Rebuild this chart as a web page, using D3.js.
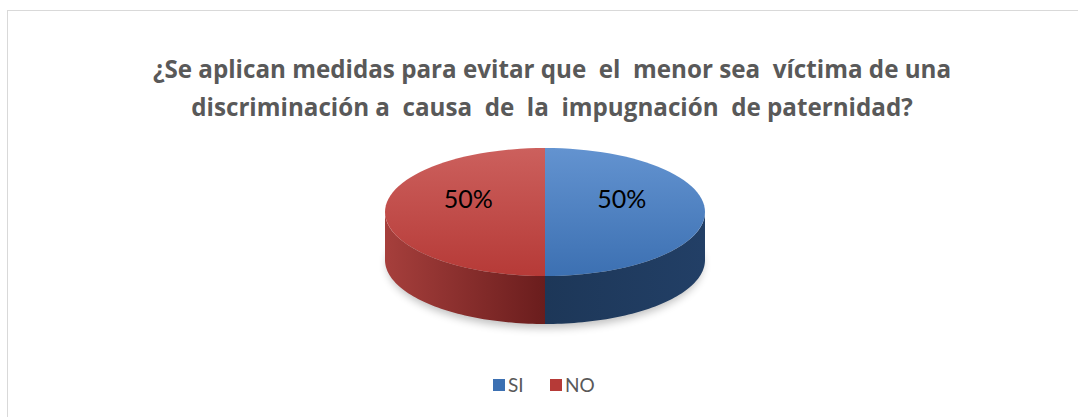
<!DOCTYPE html>
<html>
<head>
<meta charset="utf-8">
<script src="https://d3js.org/d3.v7.min.js"></script>
<style>
    body { margin: 0; background: #fff; }
    text { font-family: Lato, "Open Sans", sans-serif; }
    .title { font-family: "Open Sans", sans-serif; }
</style>
</head>
<body>
<script>
// data
const categories = ["SI", "NO"];
const values = [50, 50];
const titleLines = ["¿Se aplican medidas para evitar que  el  menor sea  víctima de una",
                    "discriminación a  causa  de  la  impugnación  de paternidad?"];

const W = 1078, H = 417;
const cx = 545, cy = 212, rx = 160, ry = 64, depth = 48;

const topColors = {SI: ["#6393d0", "#3c70b2"], NO: ["#cc605d", "#b63a37"]};
const sideColors = {SI: ["#1d3758", "#223f66"], NO: ["#a63f3c", "#6a1d1d"]};

const svg = d3.select("body").append("svg")
    .attr("width", W).attr("height", H);

const defs = svg.append("defs");
categories.forEach(c => {
    let g = defs.append("linearGradient").attr("id", "top" + c)
        .attr("x1", 0).attr("y1", 0).attr("x2", 0).attr("y2", 1);
    g.append("stop").attr("offset", "0%").attr("stop-color", topColors[c][0]);
    g.append("stop").attr("offset", "100%").attr("stop-color", topColors[c][1]);
    let s = defs.append("linearGradient").attr("id", "side" + c)
        .attr("x1", 0).attr("y1", 0).attr("x2", 1).attr("y2", 0);
    s.append("stop").attr("offset", "0%").attr("stop-color", sideColors[c][0]);
    s.append("stop").attr("offset", "100%").attr("stop-color", sideColors[c][1]);
});
defs.append("filter").attr("id", "blur")
    .attr("x", "-20%").attr("y", "-20%").attr("width", "140%").attr("height", "140%")
    .append("feGaussianBlur").attr("stdDeviation", 4);

// chart border
svg.append("rect")
    .attr("x", 7.5).attr("y", 10.5)
    .attr("width", W).attr("height", H)
    .attr("fill", "none").attr("stroke", "#d9d9d9").attr("stroke-width", 1);

// title
svg.append("g").selectAll("text")
    .data(titleLines)
    .join("text")
    .attr("class", "title")
    .attr("x", 552).attr("y", (d, i) => 78 + i * 38)
    .attr("text-anchor", "middle")
    .attr("font-size", 24.2).attr("font-weight", "bold")
    .attr("fill", "#595959")
    .attr("xml:space", "preserve")
    .style("white-space", "pre")
    .text(d => d);

const pie = d3.pie().sort(null).value(d => d.value);
const arcs = pie(categories.map((c, i) => ({cat: c, value: values[i]})));

const pt = (a, dy = 0) => [cx + rx * Math.sin(a), cy - ry * Math.cos(a) + dy];

function topPath(d) {
    let p = d3.path();
    p.moveTo(cx, cy);
    let s = pt(d.startAngle);
    p.lineTo(s[0], s[1]);
    let n = 60;
    for (let k = 1; k <= n; k++) {
        let a = d.startAngle + (d.endAngle - d.startAngle) * k / n;
        let q = pt(a);
        p.lineTo(q[0], q[1]);
    }
    p.closePath();
    return p.toString();
}

function sidePath(d) {
    let a0 = Math.max(d.startAngle, Math.PI / 2);
    let a1 = Math.min(d.endAngle, 3 * Math.PI / 2);
    if (a1 <= a0) return null;
    let p = d3.path(), n = 60;
    let s = pt(a0);
    p.moveTo(s[0], s[1]);
    for (let k = 1; k <= n; k++) {
        let q = pt(a0 + (a1 - a0) * k / n);
        p.lineTo(q[0], q[1]);
    }
    for (let k = n; k >= 0; k--) {
        let q = pt(a0 + (a1 - a0) * k / n, depth);
        p.lineTo(q[0], q[1]);
    }
    p.closePath();
    return p.toString();
}

// shadow
svg.append("ellipse")
    .attr("cx", cx).attr("cy", cy + depth + 4)
    .attr("rx", rx - 2).attr("ry", ry)
    .attr("fill", "#000").attr("opacity", 0.25)
    .attr("filter", "url(#blur)");

svg.append("g").selectAll("path")
    .data(arcs)
    .join("path")
    .attr("d", sidePath)
    .attr("fill", d => `url(#side${d.data.cat})`);

svg.append("g").selectAll("path")
    .data(arcs)
    .join("path")
    .attr("d", topPath)
    .attr("fill", d => `url(#top${d.data.cat})`);

// labels
const total = d3.sum(values);
svg.append("g").selectAll("text")
    .data(arcs)
    .join("text")
    .attr("x", d => pt((d.startAngle + d.endAngle) / 2)[0] * 0.48 + cx * 0.52)
    .attr("y", 208)
    .attr("text-anchor", "middle")
    .attr("font-size", 25)
    .attr("fill", "#000")
    .text(d => Math.round(d.data.value / total * 100) + "%");

// legend
const legend = svg.append("g").selectAll("g")
    .data(categories)
    .join("g")
    .attr("transform", (d, i) => `translate(${493 + i * 57},379)`);
legend.append("rect")
    .attr("width", 12).attr("height", 12)
    .attr("fill", d => topColors[d][1]);
legend.append("text")
    .attr("x", 15).attr("y", 13)
    .attr("font-size", 19).attr("fill", "#595959")
    .text(d => d);
</script>
</body>
</html>
